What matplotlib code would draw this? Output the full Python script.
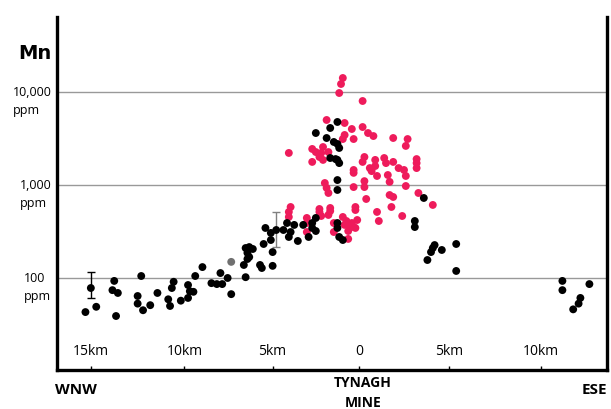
import numpy as np
import matplotlib
matplotlib.use("Agg")
import matplotlib.pyplot as plt
from matplotlib.ticker import NullLocator

plt.rcParams['font.family'] = ['Open Sans', 'DejaVu Sans']

# distance along the traverse (km, negative = WNW of the mine) and Mn (ppm)
black_km = [-14.9, -15.2, -14.6, -13.6, -13.7, -13.4, -13.5, -12.1, -12.3, -12.3,
            -12.0, -11.6, -11.2, -10.3, -10.4, -10.6, -10.5, -9.9, -9.5, -9.5,
            -9.4, -9.2, -9.1, -8.7, -8.2, -7.9, -7.6, -7.7, -7.3, -7.1,
            -6.3, -6.4, -6.3, -6.1, -5.9, -6.2, -6.1, -6.2, -5.5, -5.4,
            -5.3, -5.2, -4.9, -4.9, -4.8, -4.8, -4.6, -4.2, -4.0, -3.8,
            -3.9, -3.6, -3.4, -3.1, -2.8, -2.6, -2.6, -2.4, -2.4, -1.2,
            -1.2, -1.1, -0.9, -1.2, -1.2, 3.6, 3.1, 3.1, 4.2, 4.1,
            4.0, 3.8, 4.6, 5.4, 5.4, 11.3, 11.3, 12.8, 12.3, 12.2,
            11.9, -1.2, -1.6, -2.4, -1.8, -1.4, -1.2, -1.1, -1.6, -1.3,
            -1.2, -1.1]
black_mn = [78, 43, 49, 93, 74, 69, 39, 105, 64, 53,
            45, 51, 69, 91, 78, 59, 50, 57, 61, 84,
            72, 71, 105, 131, 88, 86, 86, 113, 100, 67,
            102, 138, 210, 215, 205, 186, 168, 160, 138, 128,
            232, 345, 256, 305, 190, 135, 328, 328, 390, 312,
            276, 372, 250, 372, 276, 390, 345, 442, 320, 390,
            345, 276, 256, 884, 1130, 725, 410, 353, 226, 210,
            190, 156, 200, 232, 119, 93, 74, 86, 61, 53,
            46, 4760, 4100, 3620, 3200, 2900, 2760, 2500, 1950, 1900,
            1860, 1720]

pink_km = [-0.9, -1.0, -1.1, 0.2, -1.8, -0.8, -0.4, -0.8, -0.9, -0.3,
           0.2, 0.5, 0.8, 1.9, 2.7, 2.6, -2.6, -2.4, -2.0, -2.1,
           -2.2, -1.7, -2.6, -2.0, -3.9, 0.3, 0.2, 0.9, 0.9, 0.6,
           0.7, 1.4, 1.5, 1.9, 2.2, 2.5, 2.6, 3.2, 3.2, 3.2,
           1.0, 1.6, 1.7, -0.3, -0.3, 0.3, 0.3, -0.3, -1.9, -1.8,
           -1.7, 0.4, 1.7, 1.9, 2.6, 3.3, 4.1, 1.8, -0.2, -1.6,
           -2.2, -3.8, -3.9, -3.9, -2.9, -2.9, -2.9, -2.2, -2.1, -1.6,
           -1.7, -1.4, -1.4, 1.0, 1.1, 2.4, -0.6, -0.9, -0.7, -0.4,
           -0.2, -0.3, -0.2, -0.6, -0.5, -0.8, -0.1]
pink_mn = [14140, 12190, 9750, 8000, 5000, 4640, 4000, 3450, 3120, 3120,
           4200, 3620, 3360, 3200, 3120, 2630, 2440, 2260, 2560, 2210,
           2000, 2260, 1770, 1860, 2210, 2000, 1770, 1860, 1600, 1520,
           1410, 1950, 1720, 1770, 1520, 1450, 1250, 1900, 1720, 1520,
           1250, 1280, 1080, 1450, 1350, 1100, 950, 950, 1050, 930,
           820, 707, 780, 743, 975, 820, 610, 580, 580, 566,
           552, 580, 513, 453, 442, 390, 312, 513, 464, 525,
           476, 390, 312, 513, 410, 464, 263, 453, 410, 390,
           538, 353, 345, 320, 360, 372, 420]

grey_km = [-7.1]
grey_mn = [149]

# error bars: x, centre, low, high
err_km = [-14.9, -4.6]
err_mid = [78, 328]
err_lo = [61, 215]
err_hi = [116, 513]
err_col = ['black', 'grey']

tick_pos = [-14.9, -9.7, -4.8, 0, 5.0, 10.1]
tick_lab = ['15km', '10km', '5km', '0', '5km', '10km']
grid_vals = [100, 1000, 10000]
grid_labs = ['100\nppm', '1,000\nppm', '10,000\nppm']

fig = plt.figure(figsize=(6.11, 4.09), dpi=100)
ax = fig.add_axes([0.0933, 0.0954, 0.9002, 0.863])

ax.set_yscale('log')
ax.set_ylim(10.25, 64000)
ax.set_xlim(-16.78, 13.78)

for g in grid_vals:
    ax.axhline(g, color='#999999', lw=1.0, zorder=1)

for k, m, lo, hi, c in zip(err_km, err_mid, err_lo, err_hi, err_col):
    ax.errorbar([k], [m], yerr=[[m - lo], [hi - m]], fmt='none', ecolor=c,
                elinewidth=1, capsize=3, capthick=1, zorder=2)

ax.scatter(pink_km, pink_mn, s=32, color='#EE1B5B', edgecolors='none', zorder=3)
ax.scatter(black_km, black_mn, s=32, color='black', edgecolors='none', zorder=4)
ax.scatter(grey_km, grey_mn, s=32, color='#707070', edgecolors='none', zorder=4)

for s in ['left', 'right', 'bottom']:
    ax.spines[s].set_linewidth(2.4)
ax.spines['top'].set_visible(False)

ax.yaxis.set_major_locator(NullLocator())
ax.yaxis.set_minor_locator(NullLocator())
ax.set_xticks(tick_pos)
ax.set_xticklabels([])
ax.tick_params(axis='x', direction='in', length=3, width=1)

for p, l in zip(tick_pos, tick_lab):
    ax.text(p, 0.051, l, transform=ax.get_xaxis_transform(), ha='center',
            va='center', fontsize=10)

for g, l in zip(grid_vals, grid_labs):
    ax.annotate(l, xy=(0, g), xycoords=('axes fraction', 'data'),
                xytext=(-4, 4), textcoords='offset points', ha='right',
                va='top', multialignment='left', fontsize=9, linespacing=1.45)

fig.text(0.085, 0.870, 'Mn', ha='right', va='center', fontsize=14,
         fontweight='bold', family='DejaVu Sans')
fig.text(0.09, 0.0465, 'WNW', ha='left', va='center', fontsize=11, fontweight='bold')
fig.text(0.594, 0.0636, 'TYNAGH', ha='center', va='center', fontsize=10, fontweight='bold')
fig.text(0.594, 0.0147, 'MINE', ha='center', va='center', fontsize=10, fontweight='bold')
fig.text(0.993, 0.0465, 'ESE', ha='right', va='center', fontsize=11, fontweight='bold')

plt.savefig('out.png', dpi=100)
